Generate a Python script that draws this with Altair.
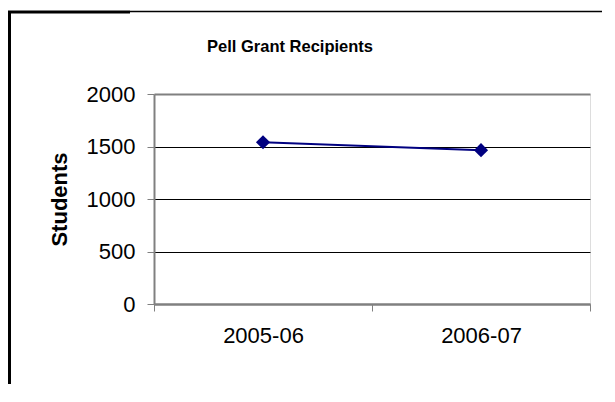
import altair as alt
import pandas as pd

years = ["2005-06", "2006-07"]
students = [1540, 1465]
y_ticks = [0, 500, 1000, 1500, 2000]
chart_title = "Pell Grant Recipients"
y_title = "Students"

FONT = "Liberation Sans"
GRAY = "#808080"

df = pd.DataFrame({"year": years, "students": students})
one = pd.DataFrame({"k": [0]})

x_enc = alt.X(
    "year:N",
    sort=years,
    scale=alt.Scale(type="band", paddingInner=0, paddingOuter=0),
    axis=alt.Axis(
        title=None, labelAngle=0, labelFontSize=22, labelFont=FONT, labelColor="black",
        domainColor=GRAY, domainWidth=2, tickColor=GRAY, tickWidth=1, tickSize=7,
        tickBand="extent", labelPadding=14, grid=False,
    ),
)
y_enc = alt.Y(
    "students:Q",
    scale=alt.Scale(domain=[0, 2000], nice=False),
    axis=alt.Axis(
        values=y_ticks, format="d", title=y_title, titleFontSize=22, titleFont=FONT,
        titleFontWeight="bold", titleColor="black", titlePadding=15,
        labelFontSize=22, labelFont=FONT, labelColor="black", labelPadding=12,
        tickSize=7, tickColor=GRAY, tickWidth=1, domainColor=GRAY, domainWidth=2,
        grid=True,
        gridColor={"condition": {"test": "datum.value >= 2000 || datum.value <= 0", "value": GRAY}, "value": "black"},
        gridWidth={"condition": {"test": "datum.value >= 2000 || datum.value <= 0", "value": 2}, "value": 1},
    ),
)

line = alt.Chart(df).mark_line(
    color="#000080", strokeWidth=2,
    point=alt.OverlayMarkDef(shape="diamond", size=200, filled=True, color="#000080", opacity=1),
).encode(x=x_enc, y=y_enc)

title_mark = alt.Chart(one).mark_text(
    text=chart_title, font=FONT, fontSize=16.5, fontWeight="bold", color="black",
    align="center", baseline="alphabetic",
).encode(x=alt.value(136), y=alt.value(-42))

frame_thick = alt.Chart(one).mark_rule(color="black", strokeWidth=3).encode(
    x=alt.value(-146), x2=alt.value(-24), y=alt.value(-82))
frame_thin = alt.Chart(one).mark_rule(color="black", strokeWidth=1.5).encode(
    x=alt.value(-24), x2=alt.value(450), y=alt.value(-82.5))
frame_left = alt.Chart(one).mark_rule(color="black", strokeWidth=3).encode(
    x=alt.value(-144.5), y=alt.value(-82), y2=alt.value(300))

chart = alt.layer(frame_thick, frame_thin, frame_left, line, title_mark).properties(
    width=436, height=210,
    padding={"left": 146, "top": 86, "right": 12, "bottom": 80},
    autosize=alt.AutoSizeParams(type="none"),
).configure_view(stroke=GRAY, strokeWidth=2).configure(background="white")

chart.save("out.html", embed_options={"renderer": "svg", "actions": False})
